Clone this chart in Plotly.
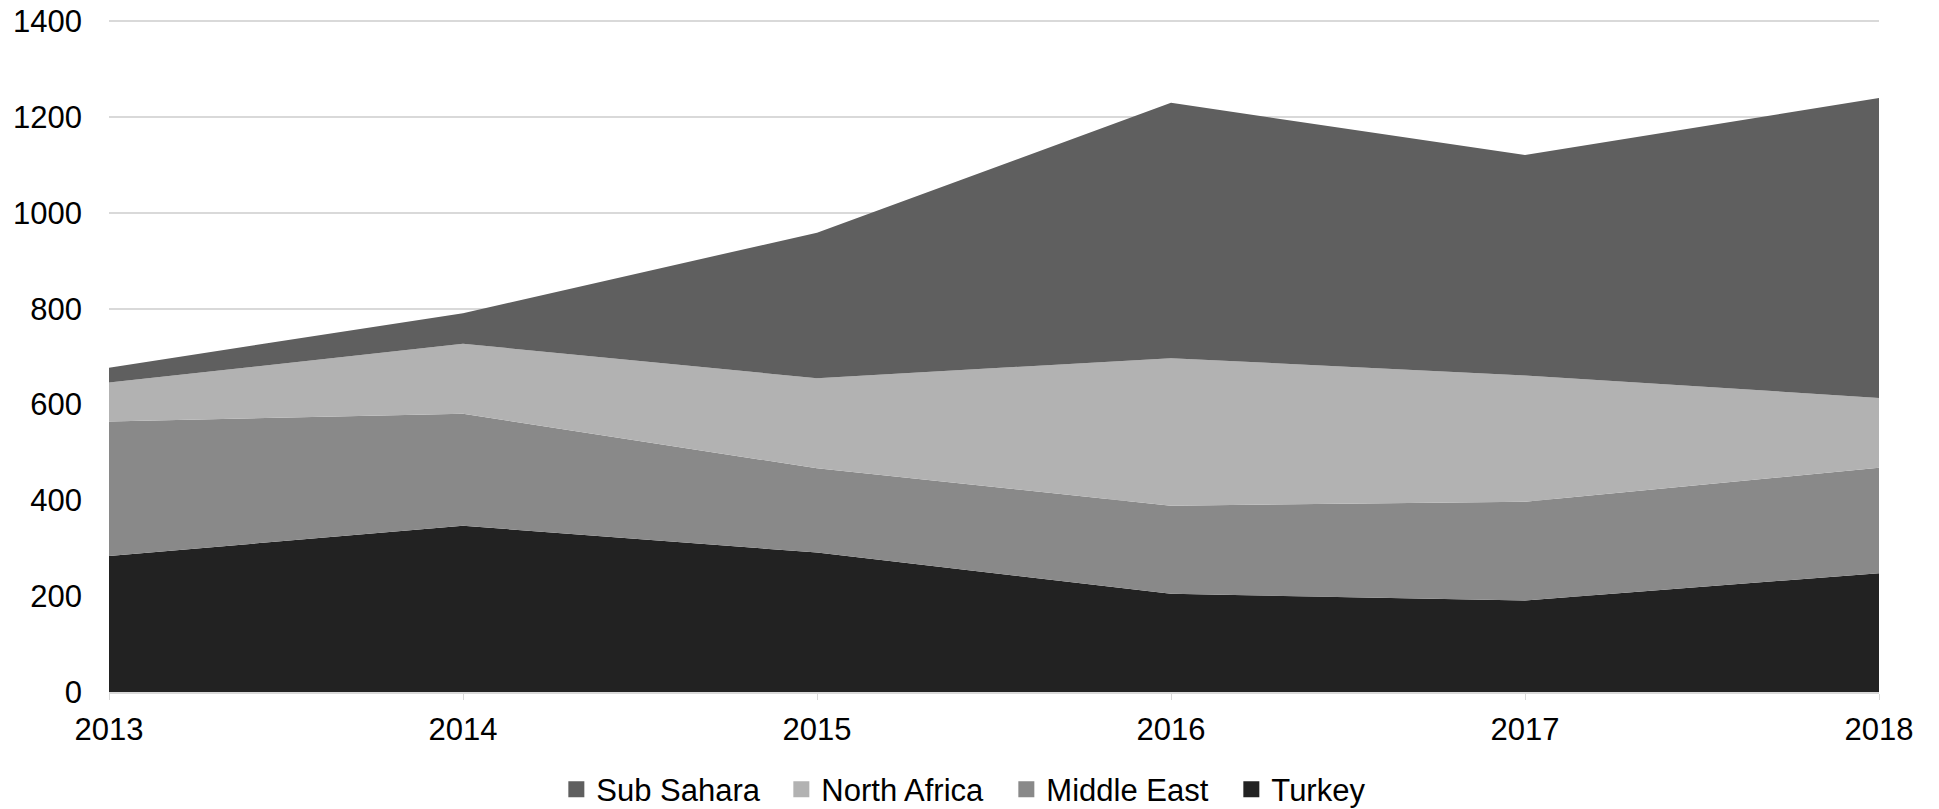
import plotly.graph_objects as go

years = [2013, 2014, 2015, 2016, 2017, 2018]
turkey = [284, 347, 291, 205, 191, 248]
middle_east = [281, 234, 176, 184, 206, 220]
north_africa = [81, 146, 188, 308, 264, 146]
sub_sahara = [31, 64, 304, 533, 460, 626]

series = [
    ("Turkey", turkey, "#222222"),
    ("Middle East", middle_east, "#898989"),
    ("North Africa", north_africa, "#b2b2b2"),
    ("Sub Sahara", sub_sahara, "#5f5f5f"),
]

fig = go.Figure()
for name, vals, col in series:
    fig.add_trace(go.Scatter(
        x=years, y=vals, name=name, stackgroup="one", mode="none",
        fillcolor=col, showlegend=False, hoverinfo="x+y+name"))
# legend entries with square markers
for name, vals, col in reversed(series):
    fig.add_trace(go.Scatter(
        x=[None], y=[None], name=name, mode="markers",
        marker=dict(symbol="square", size=16, color=col), showlegend=True))

font = "Liberation Sans, Arial, sans-serif"
fig.update_layout(
    width=1939, height=809,
    margin=dict(l=109, r=60, t=20, b=117),
    paper_bgcolor="white", plot_bgcolor="white",
    font=dict(family=font, size=31, color="#000000"),
    showlegend=True,
    legend=dict(orientation="h", xref="container", yref="container",
                x=0.519, xanchor="center", y=0.024, yanchor="middle",
                traceorder="normal",
                font=dict(size=31), itemwidth=30,
                entrywidth=180, entrywidthmode="pixels"),
    xaxis=dict(range=[2013, 2018], tickvals=years, ticktext=[str(y) for y in years],
               showgrid=False, zeroline=False, showline=True, linecolor="#d9d9d9",
               linewidth=1.5, ticks="outside", ticklen=6, tickcolor="#d9d9d9",
               ticklabelstandoff=3, tickfont=dict(size=31), automargin=False),
    yaxis=dict(range=[0, 1403], tickvals=[0, 200, 400, 600, 800, 1000, 1200, 1400],
               showgrid=True, gridcolor="#d9d9d9",
               gridwidth=1.5, zeroline=False, showline=False, ticks="",
               ticklabelstandoff=26, tickfont=dict(size=31), automargin=False),
)

fig.write_html("out.html")
